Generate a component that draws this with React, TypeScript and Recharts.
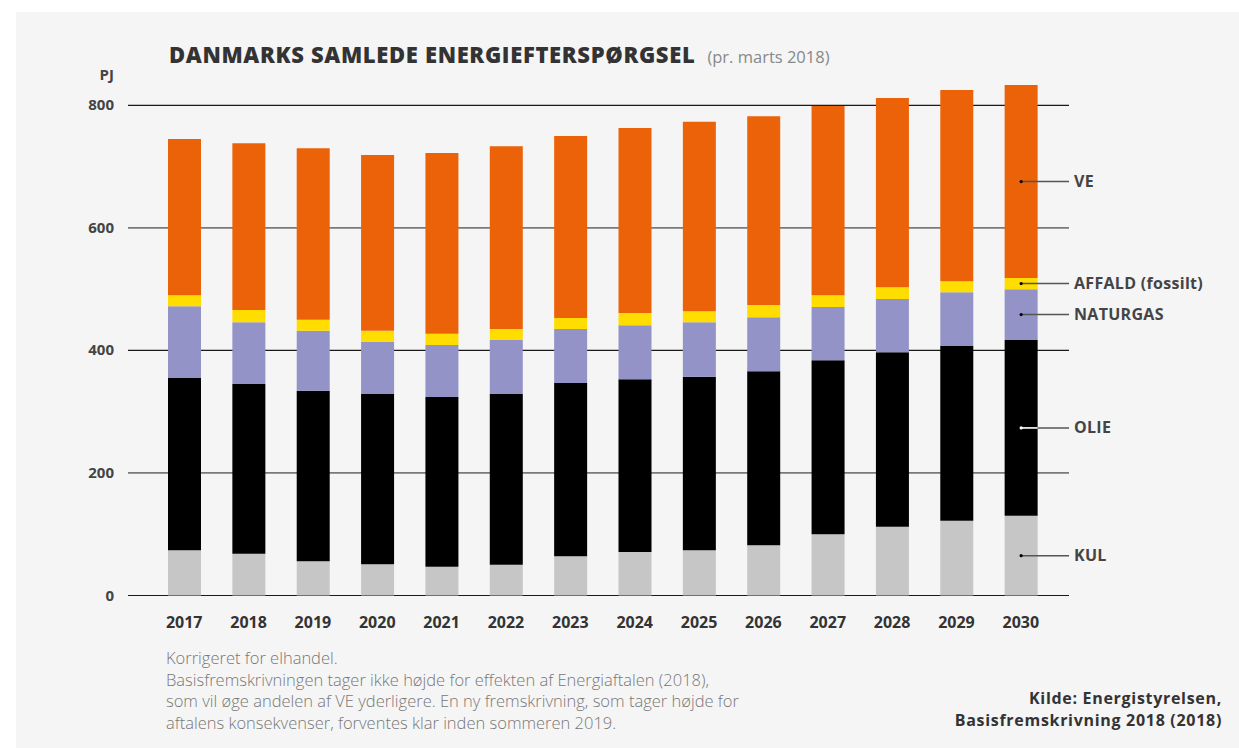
import React from 'react';
import { BarChart, Bar, XAxis, YAxis, CartesianGrid, LabelList } from 'recharts';

const years = ['2017', '2018', '2019', '2020', '2021', '2022', '2023', '2024', '2025', '2026', '2027', '2028', '2029', '2030'];
const kul = [74, 68, 56, 51, 47, 50, 64, 71, 74, 82, 100, 112, 122, 130];
const olie = [281, 277, 278, 278, 277, 279, 283, 282, 283, 284, 284, 285, 285, 287];
const naturgas = [117, 101, 98, 85, 85, 88, 88, 88, 89, 88, 87, 87, 88, 83];
const affald = [18, 20, 18, 18, 18, 18, 18, 20, 18, 20, 19, 19, 18, 18];
const ve = [255, 272, 280, 287, 295, 298, 297, 302, 309, 308, 309, 309, 312, 315];
const yTicks = [0, 200, 400, 600, 800];
const darkGrid = [0, 400, 800];
const lightGrid = [200, 600];
const yMax = 850;

const series = [
  { key: 'kul', label: 'KUL', color: '#C6C6C6', values: kul, dot: '#000' },
  { key: 'olie', label: 'OLIE', color: '#000000', values: olie, dot: '#fff' },
  { key: 'naturgas', label: 'NATURGAS', color: '#9393C8', values: naturgas, dot: '#000' },
  { key: 'affald', label: 'AFFALD (fossilt)', color: '#FFDD00', values: affald, dot: '#000' },
  { key: 've', label: 'VE', color: '#EC6209', values: ve, dot: '#000' },
];

const data = years.map((y, i) => {
  const row: any = { year: y };
  series.forEach((s) => { row[s.key] = s.values[i]; });
  return row;
});

const FONT = '"Open Sans", "DejaVu Sans", sans-serif';
const PLOT_RIGHT = 1069;
const ZERO_Y = 595.5;
const PX_PER_UNIT = 490.2 / 800;
const PLOT_TOP = ZERO_Y - yMax * PX_PER_UNIT;

const XTick = (props: any) => {
  const { x, y, payload } = props;
  return (
    <text x={x} y={y + 24} textAnchor="middle" fontFamily={FONT} fontWeight={700} fontSize={16} fill="#333">
      {payload.value}
    </text>
  );
};

const YTick = (props: any) => {
  const { y, payload } = props;
  return (
    <text x={114} y={y + 5} textAnchor="end" fontFamily={FONT} fontWeight={700} fontSize={15} fill="#444">
      {payload.value}
    </text>
  );
};

const makeLabel = (s: any) => (props: any) => {
  const { x, y, width, height, index } = props;
  if (index !== years.length - 1) return null;
  const cx = Number(x) + Number(width) / 2;
  const cy = Number(y) + Number(height) / 2;
  const right = Number(x) + Number(width);
  return (
    <g>
      <line x1={cx} y1={cy} x2={PLOT_RIGHT} y2={cy} stroke="#555" strokeWidth={1.5} />
      {s.key === 'olie' && <line x1={cx} y1={cy} x2={right} y2={cy} stroke="#fff" strokeWidth={1.5} />}
      <circle cx={cx} cy={cy} r={1.6} fill={s.dot} />
      <text x={1074} y={cy + 5.5} fontFamily={FONT} fontWeight={700} fontSize={16} letterSpacing={0.3} fill="#444">
        {s.label}
      </text>
    </g>
  );
};

export default function App() {
  return (
    <div style={{ position: 'absolute', left: 0, top: 0, width: 1239, height: 748, background: '#fff', overflow: 'hidden' }}>
      <div style={{ position: 'absolute', left: 16, top: 12, width: 1223, height: 736, background: '#f5f5f5' }} />
      <div style={{ position: 'absolute', left: 0, top: 0 }}>
        <BarChart
          width={1239}
          height={748}
          data={data}
          margin={{ top: PLOT_TOP, right: 1239 - PLOT_RIGHT, left: 0, bottom: 748 - ZERO_Y - 40 }}
          barSize={33}
        >
          <CartesianGrid
            horizontal
            vertical={false}
            stroke="#1a1a1a"
            strokeWidth={1.2}
            horizontalValues={darkGrid}
          />
          <CartesianGrid
            horizontal
            vertical={false}
            stroke="#7a7a7a"
            strokeWidth={1.8}
            horizontalValues={lightGrid}
          />
          <XAxis
            dataKey="year"
            axisLine={false}
            tickLine={false}
            interval={0}
            padding={{ left: 24, right: 16 }}
            tick={<XTick />}
            height={40}
          />
          <YAxis
            domain={[0, yMax]}
            ticks={yTicks}
            axisLine={false}
            tickLine={false}
            width={128}
            tick={<YTick />}
          />
          {series.map((s) => (
            <Bar key={s.key} dataKey={s.key} stackId="a" fill={s.color} isAnimationActive={false}>
              <LabelList dataKey={s.key} content={makeLabel(s)} />
            </Bar>
          ))}
        </BarChart>
      </div>
      <div style={{ position: 'absolute', left: 169, top: 39, fontFamily: FONT, whiteSpace: 'nowrap', lineHeight: '30px' }}>
        <span style={{ fontWeight: 800, fontSize: 22, color: '#333', letterSpacing: 0.65 }}>DANMARKS SAMLEDE ENERGIEFTERSPØRGSEL</span>
        <span style={{ fontWeight: 400, fontSize: 16.5, color: '#888', marginLeft: 12 }}>(pr. marts 2018)</span>
      </div>
      <div style={{ position: 'absolute', right: 1239 - 114, top: 64, fontFamily: FONT, fontWeight: 700, fontSize: 15, color: '#444' }}>PJ</div>
      <div style={{ position: 'absolute', left: 166, top: 647, fontFamily: FONT, fontWeight: 300, fontSize: 16.5, color: '#777', lineHeight: '21.5px', whiteSpace: 'nowrap' }}>
        <div>Korrigeret for elhandel.</div>
        <div>Basisfremskrivningen tager ikke højde for effekten af Energiaftalen (2018),</div>
        <div>som vil øge andelen af VE yderligere. En ny fremskrivning, som tager højde for</div>
        <div>aftalens konsekvenser, forventes klar inden sommeren 2019.</div>
      </div>
      <div style={{ position: 'absolute', right: 1239 - 1222, top: 688, fontFamily: FONT, fontWeight: 700, fontSize: 16, letterSpacing: 0.7, color: '#333', lineHeight: '21.5px', textAlign: 'right', whiteSpace: 'nowrap' }}>
        <div>Kilde: Energistyrelsen,</div>
        <div>Basisfremskrivning 2018 (2018)</div>
      </div>
    </div>
  );
}
